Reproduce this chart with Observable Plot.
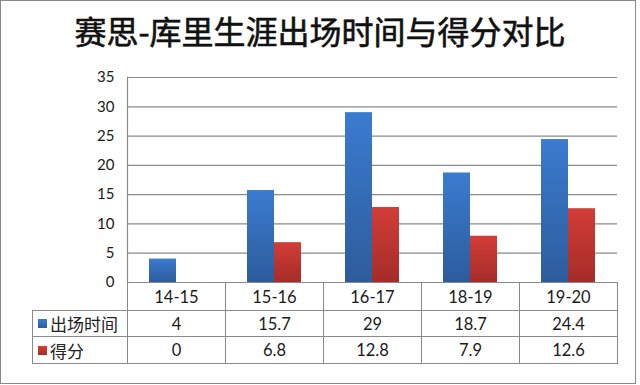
<!DOCTYPE html>
<html>
<head>
<meta charset="utf-8">
<script src="https://cdn.jsdelivr.net/npm/d3@7"></script>
<script src="https://cdn.jsdelivr.net/npm/@observablehq/plot@0.6"></script>
<style>
  html, body { margin: 0; padding: 0; background: #fff; }
  #wrap { position: relative; width: 640px; height: 385px; overflow: hidden; background: #fff; }
  #frame { position: absolute; left: 0px; top: 0px; width: 636px; height: 384px; box-sizing: border-box; border: 1.5px solid #8a8a8a; }
  #title { position: absolute; left: 0; top: 8px; width: 640px; height: 44px; line-height: 44px; text-align: center;
           font-family: "Noto Sans CJK SC", sans-serif; font-size: 32px; font-weight: 400; color: #111;
           -webkit-text-stroke: 0.6px #111; }
  #chart { position: absolute; left: 0; top: 0; }
  .cell { position: absolute; box-sizing: border-box; border: 1px solid #8a8a8a; display: flex; align-items: center; justify-content: center;
          font-family: Lato, sans-serif; font-size: 16.5px; color: #1a1a1a; }
  .leg { justify-content: flex-start; padding-left: 5px; font-family: "Noto Sans CJK SC", sans-serif; font-size: 17px; color: #222; }
  .sw { width: 9px; height: 9px; margin-right: 3px; }
</style>
</head>
<body>
<div id="wrap">
  <div id="frame"></div>
  <div id="title"></div>
  <div id="chart"></div>
</div>
<script>
const titleText = "赛思-库里生涯出场时间与得分对比";
const seasons = ["14-15", "15-16", "16-17", "18-19", "19-20"];
const seriesNames = ["出场时间", "得分"];
const minutes = [4, 15.7, 29, 18.7, 24.4];
const points = [0, 6.8, 12.8, 7.9, 12.6];
const yTicks = [0, 5, 10, 15, 20, 25, 30, 35];

const seriesValues = [minutes, points];
const gradIds = ["gBlue", "gRed"];
const gradStops = [["#3b7bd0", "#2d5c9c"], ["#d23d38", "#a52c28"]];

const rows = [];
seriesNames.forEach((s, k) => seasons.forEach((season, i) => rows.push({season, series: s, value: seriesValues[k][i]})));

document.getElementById("title").textContent = titleText;

const chart = Plot.plot({
  width: 640,
  height: 290,
  marginTop: 77,
  marginBottom: 8,
  marginLeft: 125,
  marginRight: 21,
  style: {fontFamily: "Lato, sans-serif", fontSize: "15px", color: "#1a1a1a", background: "transparent", overflow: "visible"},
  fx: {domain: seasons, padding: 0, axis: null, label: null},
  x: {domain: seriesNames, paddingInner: 0, paddingOuter: 0.77, axis: null},
  y: {domain: [0, 35], axis: null},
  marks: [
    Plot.gridY(yTicks, {stroke: "#8a8a8a", strokeOpacity: 1, strokeWidth: 1.2}),
    Plot.frame({anchor: "left", facetAnchor: "left", stroke: "#8a8a8a", strokeWidth: 1.2}),
    Plot.axisY(yTicks, {tickSize: 0, tickPadding: 13, label: null, fontSize: 15}),
    ...seriesNames.map((s, k) =>
      Plot.barY(rows.filter(d => d.series === s), {fx: "season", x: "series", y: "value", fill: `url(#${gradIds[k]})`})
    )
  ]
});

const svg = d3.select(chart.tagName.toLowerCase() === "svg" ? chart : chart.querySelector("svg"));
const defs = svg.insert("defs", ":first-child");
gradIds.forEach((id, k) => {
  const g = defs.append("linearGradient").attr("id", id).attr("x1", 0).attr("y1", 0).attr("x2", 0).attr("y2", 1);
  g.append("stop").attr("offset", "0%").attr("stop-color", gradStops[k][0]);
  g.append("stop").attr("offset", "100%").attr("stop-color", gradStops[k][1]);
});

const host = document.getElementById("chart");
host.appendChild(chart);

// data table below the plot, aligned with the fx scale
const fx = chart.scale("fx");
const wrap = document.getElementById("wrap");
const rowTops = [282, 310, 336];
const rowHeights = [29, 27, 28];
const plotLeft = fx.apply(seasons[0]);
const legendLeft = 32;
function addCell(left, top, w, h, html, cls) {
  const d = document.createElement("div");
  d.className = "cell" + (cls ? " " + cls : "");
  d.style.left = left + "px";
  d.style.top = top + "px";
  d.style.width = w + "px";
  d.style.height = h + "px";
  d.innerHTML = html;
  wrap.appendChild(d);
}
seasons.forEach((season, i) => {
  const left = fx.apply(season);
  addCell(left, rowTops[0], fx.bandwidth + 1, rowHeights[0], season);
  seriesNames.forEach((s, k) => {
    addCell(left, rowTops[k + 1], fx.bandwidth + 1, rowHeights[k + 1], String(seriesValues[k][i]));
  });
});
seriesNames.forEach((s, k) => {
  addCell(legendLeft, rowTops[k + 1], plotLeft - legendLeft + 1, rowHeights[k + 1],
    `<span class="sw" style="background:linear-gradient(${gradStops[k][0]},${gradStops[k][1]})"></span>${s}`, "leg");
});
</script>
</body>
</html>
